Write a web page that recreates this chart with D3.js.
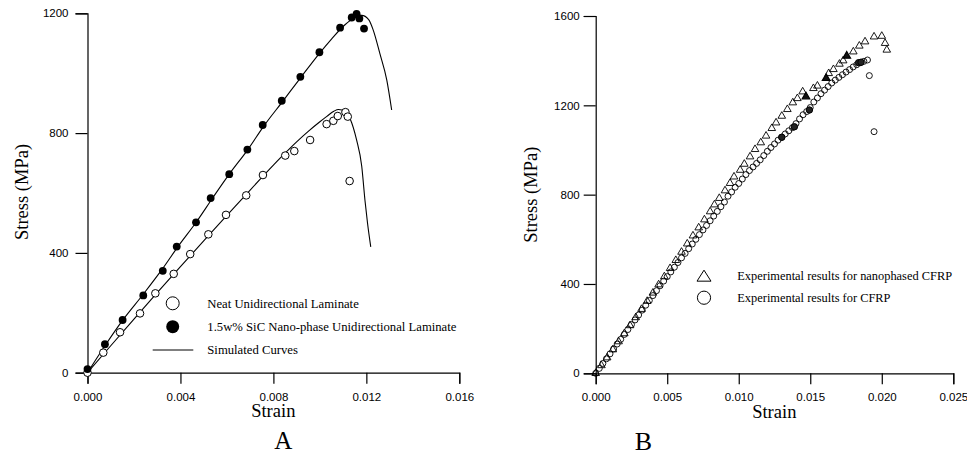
<!DOCTYPE html>
<html><head><meta charset="utf-8">
<script src="https://cdn.jsdelivr.net/npm/d3@7"></script>
<style>
html,body{margin:0;padding:0;background:#fff;}
svg{display:block;}
.tick text{font-family:"Liberation Sans",Arial,sans-serif;font-size:11.5px;fill:#000;}
.serif{font-family:"Liberation Serif","Times New Roman",serif;fill:#000;}
</style>
</head><body>
<script>
// ---------- Panel A data ----------
const neatStrain = [0, 0.00068, 0.0014, 0.00226, 0.00292, 0.00371, 0.00442, 0.0052, 0.00596, 0.00683, 0.00755, 0.00851, 0.0089, 0.00958, 0.01029, 0.01058, 0.01077, 0.0111, 0.0112, 0.01128];
const neatStress = [0, 67, 135, 198, 265, 330, 396, 462, 527, 592, 660, 725, 740, 777, 830, 841, 857, 870, 855, 640];
const sicStrain = [0, 0.00075, 0.00151, 0.0024, 0.00324, 0.00384, 0.00467, 0.0053, 0.0061, 0.00688, 0.00754, 0.00836, 0.00916, 0.00998, 0.01087, 0.01137, 0.01158, 0.0117, 0.0119];
const sicStress = [12, 95, 176, 258, 340, 421, 502, 583, 663, 745, 827, 908, 988, 1070, 1152, 1186, 1198, 1183, 1149];
const simSicStrain = [0, 0.00075, 0.0015, 0.0024, 0.0032, 0.0039, 0.0047, 0.0054, 0.0061, 0.0069, 0.0076, 0.0084, 0.0092, 0.0100, 0.0105, 0.0110, 0.0114, 0.0118, 0.0121, 0.0123, 0.01258, 0.01288, 0.01309];
const simSicStress = [0, 90, 174, 262, 344, 422, 505, 585, 663, 745, 825, 906, 988, 1068, 1114, 1156, 1181, 1193, 1179, 1143, 1066, 977, 877];
const simNeatStrain = [0, 0.001, 0.002, 0.003, 0.004, 0.005, 0.006, 0.007, 0.008, 0.0085, 0.009, 0.0095, 0.0100, 0.0103, 0.0106, 0.0108, 0.0111, 0.0113, 0.01158, 0.0118, 0.01194, 0.01205, 0.01219];
const simNeatStress = [0, 90, 179, 267, 354, 440, 525, 610, 693, 733, 771, 806, 838, 856, 873, 879, 872, 848, 777, 690, 576, 500, 420];
const aXMajor = [0, 0.004, 0.008, 0.012, 0.016];
const aXMinor = [0.002, 0.006, 0.010, 0.014];
const aYMajor = [0, 400, 800, 1200];
const aYMinor = [200, 600, 1000];
const aLegend = ["Neat Unidirectional Laminate", "1.5w% SiC Nano-phase Unidirectional Laminate", "Simulated Curves"];

// ---------- Panel B data ----------
const nanoStrain = [0, 0.0004, 0.0008, 0.0012, 0.0016, 0.0020, 0.0024, 0.0028, 0.0032, 0.0036, 0.0040, 0.0044, 0.0048, 0.0052, 0.0056, 0.0060, 0.0064, 0.0068, 0.0072, 0.0076, 0.0080, 0.0083, 0.00864, 0.00904, 0.00939, 0.00967, 0.0101, 0.01039, 0.01079, 0.01114, 0.01154, 0.01191, 0.01231, 0.01261, 0.01301, 0.0134, 0.01378, 0.0141, 0.01447, 0.01522, 0.0155, 0.01629, 0.01662, 0.01704, 0.0173, 0.01801, 0.01843, 0.01883, 0.01946, 0.0200, 0.02023, 0.02035];
const nanoStress = [0, 35, 70, 106, 142, 178, 214, 250, 287, 323, 360, 397, 433, 470, 506, 543, 580, 616, 652, 688, 724, 755, 784, 818, 851, 880, 910, 937, 970, 1003, 1033, 1063, 1097, 1122, 1152, 1182, 1212, 1231, 1261, 1276, 1287, 1343, 1361, 1385, 1400, 1440, 1466, 1485, 1507, 1510, 1478, 1448];
const nanoDarkStrain = [0.0147, 0.01611, 0.01755];
const nanoDarkStress = [1239, 1321, 1421];
const cfrpStrain = [0, 0.00025, 0.0005, 0.00075, 0.001, 0.00125, 0.0015, 0.00175, 0.002, 0.00225, 0.0025, 0.00275, 0.003, 0.00325, 0.0035, 0.00375, 0.004, 0.00425, 0.0045, 0.00475, 0.005, 0.00525, 0.0055, 0.00575, 0.006, 0.00625, 0.0065, 0.00675, 0.007, 0.00725, 0.0075, 0.00775, 0.008, 0.00825, 0.0085, 0.00875, 0.009, 0.00925, 0.0095, 0.00975, 0.01, 0.01025, 0.0105, 0.01075, 0.011, 0.01125, 0.0115, 0.01175, 0.012, 0.01225, 0.0125, 0.01275, 0.013, 0.01325, 0.0135, 0.01375, 0.014, 0.01425, 0.0145, 0.01475, 0.015, 0.01525, 0.0155, 0.01575, 0.016, 0.01625, 0.0165, 0.01675, 0.017, 0.01725, 0.0175, 0.01775, 0.018, 0.01825, 0.0185, 0.01875, 0.019, 0.01913, 0.01946];
const cfrpStress = [0, 22, 44, 65, 87, 109, 131, 152, 174, 196, 218, 239, 261, 283, 305, 326, 348, 370, 392, 413, 433, 454, 475, 496, 517, 537, 558, 579, 600, 621, 642, 662, 683, 704, 725, 746, 767, 793, 812, 833, 850, 870, 890, 908, 924, 940, 956, 975, 994, 1011, 1027, 1044, 1057, 1072, 1086, 1100, 1118, 1139, 1158, 1172, 1190, 1215, 1233, 1252, 1268, 1284, 1300, 1313, 1325, 1337, 1349, 1360, 1372, 1382, 1391, 1397, 1403, 1333, 1082];
const cfrpDarkStrain = [0.01301, 0.01389, 0.01494, 0.01838, 0.01855];
const cfrpDarkStress = [1057, 1104, 1179, 1391, 1393];
const bXMajor = [0, 0.005, 0.010, 0.015, 0.020, 0.025];
const bXMinor = [0.0025, 0.0075, 0.0125, 0.0175, 0.0225];
const bYMajor = [0, 400, 800, 1200, 1600];
const bYMinor = [200, 600, 1000, 1400];
const bLegend = ["Experimental results for nanophased CFRP", "Experimental results for CFRP"];

const W = 967, H = 456;
const svg = d3.select("body").append("svg").attr("width", W).attr("height", H);
svg.append("rect").attr("width", W).attr("height", H).attr("fill", "#fff");

const zip = (a, b) => a.map((v, i) => [v, b[i]]);
const triPath = (w, h) => `M0,${-2*h/3}L${w/2},${h/3}L${-w/2},${h/3}Z`;

function drawAxes(g, x, y, xMaj, xMin, yMaj, yMin, xFmt, yPad) {
  const xa = g.append("g").attr("transform", `translate(0,${y.range()[0]})`);
  xa.call(d3.axisBottom(x).tickValues(xMin).tickSize(6).tickFormat(""));
  xa.call(d3.axisBottom(x).tickValues(xMaj).tickSize(11).tickPadding(9).tickFormat(xFmt));
  const ya = g.append("g").attr("transform", `translate(${x.range()[0]},0)`);
  ya.call(d3.axisLeft(y).tickValues(yMin).tickSize(6).tickFormat(""));
  ya.call(d3.axisLeft(y).tickValues(yMaj).tickSize(12).tickPadding(yPad).tickFormat(d3.format("d")));
  g.selectAll(".domain").attr("stroke", "#000").attr("stroke-width", 1.2);
  g.selectAll(".tick line").attr("stroke", "#000").attr("stroke-width", 1.2);
}

// ---------- Panel A ----------
{
  const x = d3.scaleLinear().domain([0, 0.016]).range([87.5, 459.3]);
  const y = d3.scaleLinear().domain([0, 1200]).range([372.7, 13.3]);
  const g = svg.append("g");
  drawAxes(g, x, y, aXMajor, aXMinor, aYMajor, aYMinor, d3.format(".3f"), 7);

  const line = d3.line().x(d => x(d[0])).y(d => y(d[1])).curve(d3.curveMonotoneX);
  [zip(simSicStrain, simSicStress), zip(simNeatStrain, simNeatStress)].forEach(pts => {
    g.append("path").attr("d", line(pts)).attr("fill", "none").attr("stroke", "#000").attr("stroke-width", 1.1);
  });
  g.selectAll("circle.neat").data(zip(neatStrain, neatStress)).join("circle")
    .attr("cx", d => x(d[0])).attr("cy", d => y(d[1])).attr("r", 3.8)
    .attr("fill", "#fff").attr("stroke", "#000").attr("stroke-width", 1);
  g.selectAll("circle.sic").data(zip(sicStrain, sicStress)).join("circle")
    .attr("cx", d => x(d[0])).attr("cy", d => y(d[1])).attr("r", 3.9)
    .attr("fill", "#000");

  // legend
  const lg = g.append("g");
  lg.append("circle").attr("cx", 172.7).attr("cy", 303.3).attr("r", 6.5).attr("fill", "#fff").attr("stroke", "#000").attr("stroke-width", 1);
  lg.append("circle").attr("cx", 172.7).attr("cy", 326.7).attr("r", 6.5).attr("fill", "#000");
  lg.append("line").attr("x1", 152.7).attr("x2", 193.3).attr("y1", 350).attr("y2", 350).attr("stroke", "#000").attr("stroke-width", 1);
  aLegend.forEach((t, i) => {
    lg.append("text").attr("class", "serif").attr("x", 207.3).attr("y", 307.8 + i * 23.3)
      .attr("font-size", 12.7).text(t);
  });

  g.append("text").attr("class", "serif").attr("x", 273.3).attr("y", 417).attr("text-anchor", "middle").attr("font-size", 18.5).text("Strain");
  g.append("text").attr("class", "serif").attr("transform", "translate(28,192) rotate(-90)").attr("text-anchor", "middle").attr("font-size", 18.5).text("Stress (MPa)");
  g.append("text").attr("class", "serif").attr("x", 283.3).attr("y", 448.5).attr("text-anchor", "middle").attr("font-size", 25).text("A");
}

// ---------- Panel B ----------
{
  const x = d3.scaleLinear().domain([0, 0.025]).range([595.7, 953.3]);
  const y = d3.scaleLinear().domain([0, 1600]).range([373.3, 16]);
  const g = svg.append("g");
  drawAxes(g, x, y, bXMajor, bXMinor, bYMajor, bYMinor, d3.format(".3f"), 4);

  g.selectAll("circle.cfrp").data(zip(cfrpStrain, cfrpStress)).join("circle")
    .attr("cx", d => x(d[0])).attr("cy", d => y(d[1])).attr("r", 3)
    .attr("fill", "none").attr("stroke", "#000").attr("stroke-width", 0.9);
  g.selectAll("path.nano").data(zip(nanoStrain, nanoStress)).join("path")
    .attr("transform", d => `translate(${x(d[0])},${y(d[1])})`).attr("d", triPath(7.6, 6.6))
    .attr("fill", "none").attr("stroke", "#000").attr("stroke-width", 0.9);
  g.selectAll("path.nanoDark").data(zip(nanoDarkStrain, nanoDarkStress)).join("path")
    .attr("transform", d => `translate(${x(d[0])},${y(d[1])})`).attr("d", triPath(7.6, 6.6))
    .attr("fill", "#111").attr("stroke", "#000").attr("stroke-width", 1.2);
  g.selectAll("circle.cfrpDark").data(zip(cfrpDarkStrain, cfrpDarkStress)).join("circle")
    .attr("cx", d => x(d[0])).attr("cy", d => y(d[1])).attr("r", 3.2)
    .attr("fill", "#222").attr("stroke", "#000").attr("stroke-width", 1);

  const lg = g.append("g");
  lg.append("path").attr("transform", "translate(704,277.5)").attr("d", triPath(14, 11))
    .attr("fill", "#fff").attr("stroke", "#000").attr("stroke-width", 1);
  lg.append("circle").attr("cx", 704).attr("cy", 297.7).attr("r", 6.6).attr("fill", "#fff").attr("stroke", "#000").attr("stroke-width", 1);
  bLegend.forEach((t, i) => {
    lg.append("text").attr("class", "serif").attr("x", 737.3).attr("y", 279.8 + i * 22)
      .attr("font-size", 12.4).text(t);
  });

  g.append("text").attr("class", "serif").attr("x", 774.3).attr("y", 417.5).attr("text-anchor", "middle").attr("font-size", 18.5).text("Strain");
  g.append("text").attr("class", "serif").attr("transform", "translate(537,194.7) rotate(-90)").attr("text-anchor", "middle").attr("font-size", 18.5).text("Stress (MPa)");
  g.append("text").attr("class", "serif").attr("x", 643.3).attr("y", 449.5).attr("text-anchor", "middle").attr("font-size", 26).text("B");
}
</script>
</body></html>
